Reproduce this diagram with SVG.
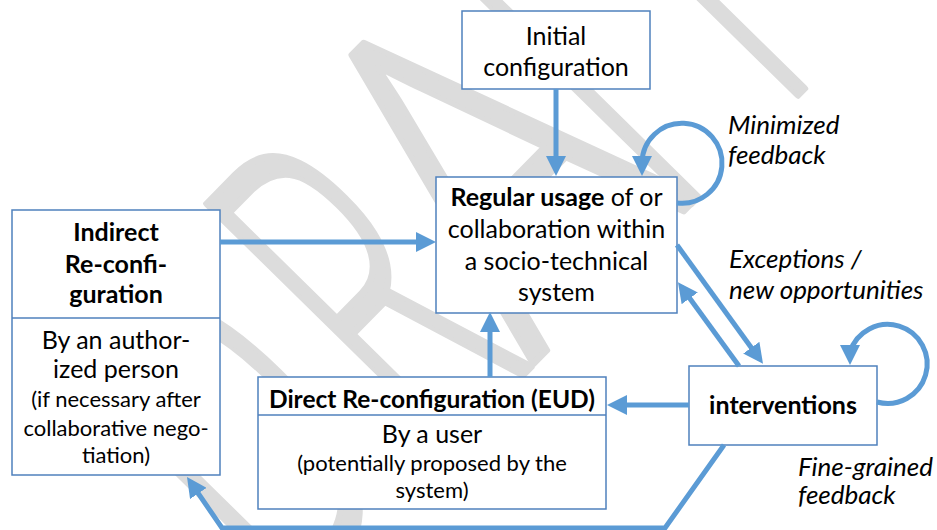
<svg xmlns="http://www.w3.org/2000/svg" width="937" height="530" viewBox="0 0 937 530">
<defs>
<style>
.box{fill:#fff;stroke:#4f81bd;stroke-width:1.5}
.t{font-family:Lato,"Liberation Sans",sans-serif;font-size:25px;fill:#000;text-anchor:middle}
.s{font-size:22px}
.b{font-weight:bold}
.i{font-family:Lato,"Liberation Sans",sans-serif;font-style:italic;font-size:26px;fill:#000}
.c{fill:none;stroke:#5b9bd5;stroke-width:5}
.wm text{font-family:"Open Sans","Liberation Sans",sans-serif;font-weight:300;font-size:483px;fill:#dcdcdc;stroke:#dcdcdc;stroke-width:6;stroke-linejoin:round;vector-effect:non-scaling-stroke}
</style>
<marker id="ah" markerUnits="userSpaceOnUse" markerWidth="20" markerHeight="20" viewBox="0 0 20 20" refX="14" refY="10" orient="auto"><path d="M0,0 L20,10 L0,20 z" fill="#5b9bd5"/></marker>
</defs>
<rect width="937" height="530" fill="#fff"/>
<g id="watermark" class="wm" transform="translate(606,290) rotate(-45.5)">
<text transform="translate(-459,0) scale(0.555,1)">D</text>
<text transform="translate(-244,0) scale(0.5,1)">R</text>
<text transform="translate(-104,0) skewX(2.8) scale(0.81,1)">A</text>
<text transform="translate(96,0) scale(0.5,1)">F</text>
<text transform="translate(215,0) scale(0.5,1)">T</text>
</g>
<g id="initial"><rect class="box" x="462" y="11" width="188" height="78"/>
<text class="t" x="556" y="45">Initial</text><text class="t" x="556" y="76">configuration</text></g>
<g id="regular"><rect class="box" x="436" y="177" width="241" height="136"/>
<text class="t" x="556.5" y="206"><tspan class="b">Regular usage</tspan> of or</text>
<text class="t" x="556.5" y="238">collaboration within</text>
<text class="t" x="556.5" y="270">a socio-technical</text>
<text class="t" x="556.5" y="301">system</text></g>
<g id="indirect"><rect class="box" x="12" y="210" width="208" height="265"/><line x1="12" y1="318" x2="220" y2="318" stroke="#4f81bd" stroke-width="1.5"/>
<text class="t b" x="116" y="241">Indirect</text>
<text class="t b" x="116" y="273">Re-confi-</text>
<text class="t b" x="116" y="303">guration</text>
<text class="t" x="116" y="349">By an author-</text>
<text class="t" x="116" y="378">ized person</text>
<text class="t s" x="116" y="407">(if necessary after</text>
<text class="t s" x="116" y="436">collaborative nego-</text>
<text class="t s" x="116" y="463">tiation)</text></g>
<g id="direct"><rect class="box" x="258" y="377" width="348" height="132"/><line x1="258" y1="415" x2="606" y2="415" stroke="#4f81bd" stroke-width="1.5"/>
<text class="t b" x="432" y="408" style="font-size:24.5px">Direct Re-configuration (EUD)</text>
<text class="t" x="432" y="443">By a user</text>
<text class="t s" x="432" y="471">(potentially proposed by the</text>
<text class="t s" x="432" y="498">system)</text></g>
<g id="interventions"><rect class="box" x="689" y="366" width="188" height="79"/>
<text class="t b" x="783" y="414">interventions</text></g>
<g id="labels">
<text class="i" x="728" y="134">Minimized</text><text class="i" x="728" y="164">feedback</text>
<text class="i" x="729" y="268">Exceptions /</text><text class="i" x="729" y="299">new opportunities</text>
<text class="i" x="798" y="476">Fine-grained</text><text class="i" x="798" y="504">feedback</text>
</g>
<g id="connectors">
<path class="c" marker-end="url(#ah)" d="M556,89 V170"/>
<path class="c" marker-end="url(#ah)" d="M220,242 H430"/>
<path class="c" marker-end="url(#ah)" d="M490,377 V318"/>
<path class="c" marker-end="url(#ah)" d="M689,405 H613"/>
<path class="c" marker-end="url(#ah)" d="M677,245 L759.5,359"/>
<path class="c" marker-end="url(#ah)" d="M739,366 L681.5,287"/>
<path class="c" marker-end="url(#ah)" d="M677,203 A40,40 0 1 0 642,163 L642,170"/>
<path class="c" marker-end="url(#ah)" d="M877,402 A39.5,39.5 0 1 0 850,352 L850,359"/>
<path class="c" stroke-width="4.5" marker-end="url(#ah)" d="M724,445 L665,528 L222,528 L190.4,481.9"/>
</g>
</svg>
